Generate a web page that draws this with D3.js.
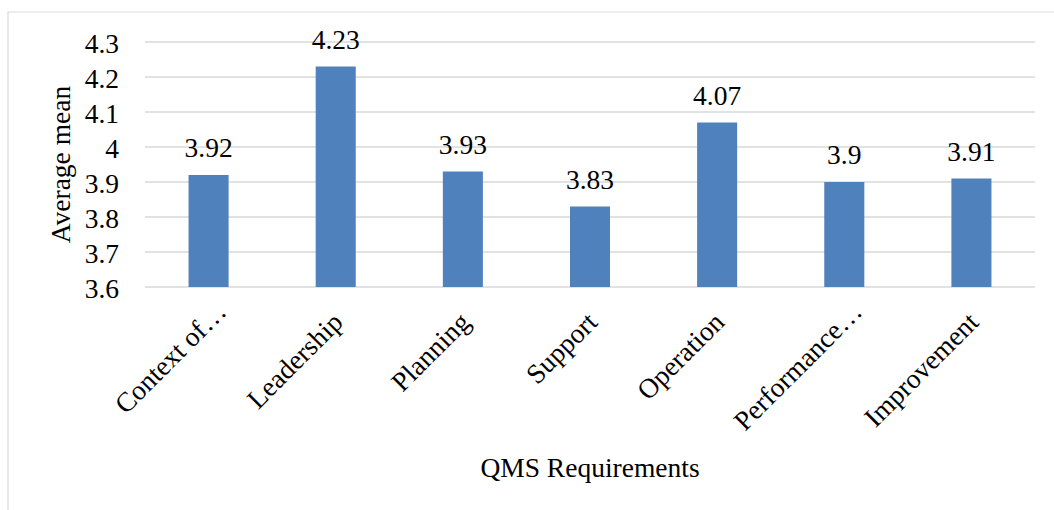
<!DOCTYPE html>
<html>
<head>
<meta charset="utf-8">
<script src="https://cdn.jsdelivr.net/npm/d3@7"></script>
<style>
  html, body { margin: 0; padding: 0; background: #fff; }
  svg { display: block; }
</style>
</head>
<body>
<svg id="chart" width="1054" height="510"></svg>
<script>
// QMS requirement categories and their average mean scores
const categories = ["Context of…", "Leadership", "Planning", "Support", "Operation", "Performance…", "Improvement"];
const values = [3.92, 4.23, 3.93, 3.83, 4.07, 3.9, 3.91];
const valueLabels = ["3.92", "4.23", "3.93", "3.83", "4.07", "3.9", "3.91"];
const yTicks = [3.6, 3.7, 3.8, 3.9, 4.0, 4.1, 4.2, 4.3];
const yTickLabels = ["3.6", "3.7", "3.8", "3.9", "4", "4.1", "4.2", "4.3"];
const yTitle = "Average mean";
const xTitle = "QMS Requirements";

const FONT = "'Liberation Serif', 'Times New Roman', Times, serif";
const fontSize = 27.5;

const svg = d3.select("#chart")
  .attr("font-family", FONT)
  .attr("font-size", fontSize);
const W = 1054, H = 510;
const plot = { left: 145, right: 1035, top: 42, bottom: 287 };

// chart frame (top and left edges visible)
svg.append("path")
  .attr("d", `M8,${H} L8,12 L${W},12`)
  .attr("fill", "none")
  .attr("stroke", "#D9D9D9")
  .attr("stroke-width", 1.2);

const x = d3.scaleBand()
  .domain(categories)
  .range([plot.left, plot.right])
  .paddingInner(0.685)
  .paddingOuter(0.3425);

const y = d3.scaleLinear()
  .domain([3.6, 4.3])
  .range([plot.bottom, plot.top]);

// horizontal gridlines
svg.append("g")
  .selectAll("line")
  .data(yTicks)
  .join("line")
  .attr("x1", plot.left)
  .attr("x2", plot.right)
  .attr("y1", d => y(d))
  .attr("y2", d => y(d))
  .attr("stroke", "#D9D9D9")
  .attr("stroke-width", 1.5);

// y-axis tick labels
const yAxis = d3.axisLeft(y)
  .tickValues(yTicks)
  .tickFormat((d, i) => yTickLabels[i])
  .tickSize(0)
  .tickPadding(0);

const yG = svg.append("g")
  .attr("transform", `translate(119,1)`)
  .call(yAxis)
  .attr("font-family", FONT)
  .attr("font-size", fontSize);
yG.select(".domain").remove();
yG.selectAll("text")
  .attr("fill", "#000")
  .attr("dy", "0.33em");

// bars
svg.append("g")
  .selectAll("rect")
  .data(values)
  .join("rect")
  .attr("x", (d, i) => x(categories[i]))
  .attr("width", x.bandwidth())
  .attr("y", d => y(d))
  .attr("height", d => y(3.6) - y(d))
  .attr("fill", "#4F81BD");

// value labels above bars
svg.append("g")
  .selectAll("text")
  .data(values)
  .join("text")
  .attr("x", (d, i) => x(categories[i]) + x.bandwidth() / 2)
  .attr("y", d => y(d) - 18)
  .attr("text-anchor", "middle")
  .attr("fill", "#000")
  .text((d, i) => valueLabels[i]);

// rotated category labels; truncated names sit a little further along the slant
svg.append("g")
  .selectAll("text")
  .data(categories)
  .join("text")
  .attr("transform", d => {
    const cx = x(d) + x.bandwidth() / 2 + 2;
    return `translate(${cx},${plot.bottom + 30}) rotate(-45)`;
  })
  .attr("text-anchor", "end")
  .attr("dx", d => d.endsWith("…") ? 15 : 0)
  .attr("dy", "0.35em")
  .attr("fill", "#000")
  .text(d => d);

// axis titles
svg.append("text")
  .attr("transform", `translate(70,${(plot.top + plot.bottom) / 2}) rotate(-90)`)
  .attr("text-anchor", "middle")
  .attr("fill", "#000")
  .text(yTitle);

svg.append("text")
  .attr("x", (plot.left + plot.right) / 2)
  .attr("y", 477)
  .attr("text-anchor", "middle")
  .attr("fill", "#000")
  .text(xTitle);
</script>
</body>
</html>
